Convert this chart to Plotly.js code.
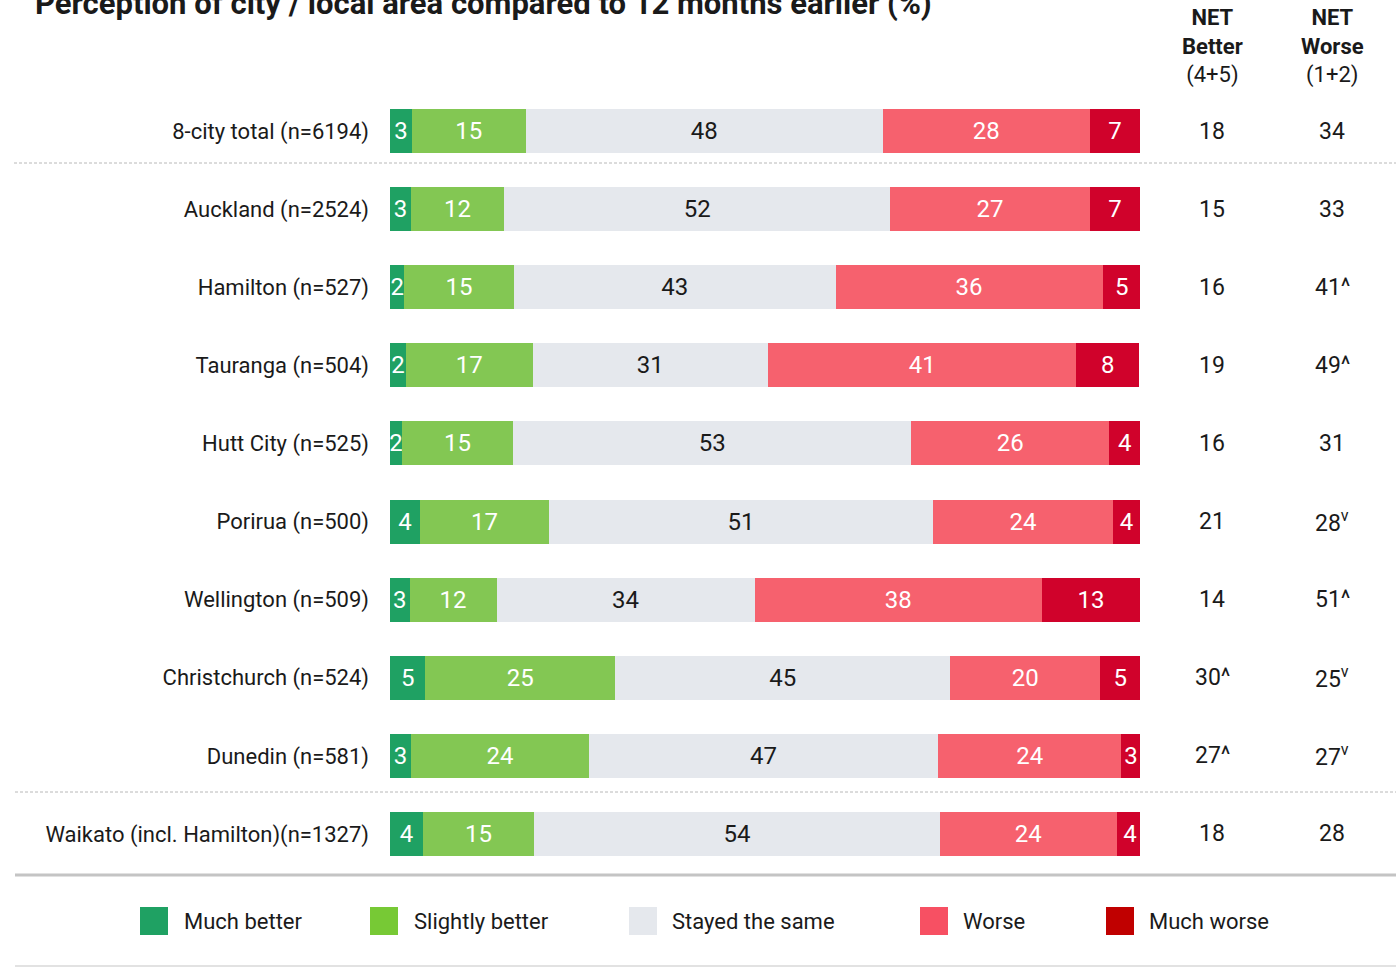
<!DOCTYPE html>
<html>
<head>
<meta charset="utf-8">
<script src="https://cdn.plot.ly/plotly-3.0.1.min.js"></script>
<style>html,body{margin:0;padding:0;background:#fff;}#chart{width:1396px;height:967px;}</style>
</head>
<body>
<div id="chart"></div>
<script>
// ---- data ----
const categories = [
  "8-city total (n=6194)",
  "Auckland (n=2524)",
  "Hamilton (n=527)",
  "Tauranga (n=504)",
  "Hutt City (n=525)",
  "Porirua (n=500)",
  "Wellington (n=509)",
  "Christchurch (n=524)",
  "Dunedin (n=581)",
  "Waikato (incl. Hamilton)(n=1327)"
];
const muchBetter     = [2.9, 2.8, 1.9, 2.1, 1.6, 4.0, 2.6, 4.7, 2.8, 4.4];
const slightlyBetter = [15.2, 12.4, 14.6, 16.9, 14.8, 17.2, 11.6, 25.3, 23.7, 14.8];
const stayedSame     = [47.6, 51.5, 42.9, 31.4, 53.1, 51.2, 34.4, 44.7, 46.6, 54.1];
const worse          = [27.6, 26.6, 35.6, 41.1, 26.4, 24.0, 38.3, 20.0, 24.4, 23.6];
const muchWorse      = [6.7, 6.7, 5.1, 8.4, 4.1, 3.6, 13.1, 5.3, 2.6, 3.5];
const netBetter = ["18", "15", "16", "19", "16", "21", "14", "30^", "27^", "18"];
const netWorse  = ["34", "33", "41^", "49^", "31", "28<sup>v</sup>", "51^", "25<sup>v</sup>", "27<sup>v</sup>", "28"];
const seriesNames = ["Much better", "Slightly better", "Stayed the same", "Worse", "Much worse"];
const titleText = "Perception of city / local area compared to 12 months earlier (%)";

// ---- styling ----
const FONT = "Roboto, 'Noto Sans', sans-serif";
const barColors = ["#1fa163", "#83c753", "#e5e8ed", "#f6616e", "#d0022b"];
const legendColors = ["#1fa163", "#77c935", "#e5e8ed", "#f75063", "#c00000"];
const textColors = ["#ffffff", "#ffffff", "#1a1a1a", "#ffffff", "#ffffff"];
const seriesValues = [muchBetter, slightlyBetter, stayedSame, worse, muchWorse];

const W = 1396, H = 967;
const ML = 390, MR = W - 1140, MT = 92, MB = H - 873;
const plotW = W - ML - MR, plotH = H - MT - MB;
const px = x => (x - ML) / plotW;
const py = y => (H - MB - y) / plotH;

const traces = seriesValues.map((vals, i) => ({
  type: "bar",
  orientation: "h",
  name: seriesNames[i],
  y: categories,
  x: vals,
  marker: {color: barColors[i], line: {width: 0}},
  texttemplate: "%{x:.0f}",
  textposition: "inside",
  insidetextanchor: "middle",
  textangle: 0,
  constraintext: "none",
  textfont: {family: FONT, size: 24, color: textColors[i]},
  hoverinfo: "skip",
  showlegend: false
}));

const annotations = [];
annotations.push({
  xref: "paper", yref: "paper", x: px(33), y: py(4), xanchor: "left", yanchor: "middle",
  text: "<b>" + titleText + "</b>", showarrow: false,
  font: {family: FONT, size: 31, color: "#1a1a1a"}
});
annotations.push({
  xref: "paper", yref: "paper", x: px(1212), y: py(47), xanchor: "center", yanchor: "middle",
  text: "<b>NET</b><br><b>Better</b><br>(4+5)", showarrow: false, align: "center",
  font: {family: FONT, size: 22, color: "#1a1a1a"}
});
annotations.push({
  xref: "paper", yref: "paper", x: px(1332), y: py(47), xanchor: "center", yanchor: "middle",
  text: "<b>NET</b><br><b>Worse</b><br>(1+2)", showarrow: false, align: "center",
  font: {family: FONT, size: 22, color: "#1a1a1a"}
});
categories.forEach((c, i) => {
  annotations.push({
    xref: "paper", yref: "y", x: px(1212), y: c, xanchor: "center", yanchor: "middle",
    text: netBetter[i], showarrow: false, font: {family: FONT, size: 23, color: "#1a1a1a"}
  });
  annotations.push({
    xref: "paper", yref: "y", x: px(1332), y: c, xanchor: "center", yanchor: "middle",
    text: netWorse[i], showarrow: false, font: {family: FONT, size: 23, color: "#1a1a1a"}
  });
});

const shapes = [
  {type: "line", xref: "paper", yref: "paper", x0: px(14), x1: px(1396), y0: py(163), y1: py(163),
   line: {color: "#b8b8b8", width: 1, dash: "3px,2px"}},
  {type: "line", xref: "paper", yref: "paper", x0: px(15), x1: px(1396), y0: py(792), y1: py(792),
   line: {color: "#b8b8b8", width: 1, dash: "3px,2px"}},
  {type: "line", xref: "paper", yref: "paper", x0: px(15), x1: px(1396), y0: py(875), y1: py(875),
   line: {color: "#c4c4c4", width: 3}},
  {type: "line", xref: "paper", yref: "paper", x0: px(15), x1: px(1396), y0: py(966), y1: py(966),
   line: {color: "#e2e2e2", width: 2}}
];

// custom legend
const legSquareX = [140, 370, 629, 920, 1106];
const legTextX = [182, 412, 670, 961, 1147];
const legY = 921;
seriesNames.forEach((n, i) => {
  shapes.push({type: "rect", xref: "paper", yref: "paper",
    x0: px(legSquareX[i]), x1: px(legSquareX[i] + 28), y0: py(legY - 14), y1: py(legY + 14),
    fillcolor: legendColors[i], line: {width: 0}});
  annotations.push({xref: "paper", yref: "paper", x: px(legTextX[i]), y: py(legY),
    xanchor: "left", yanchor: "middle", text: n, showarrow: false,
    font: {family: FONT, size: 22, color: "#1a1a1a"}});
});

const layout = {
  width: W, height: H,
  margin: {l: ML, r: MR, t: MT, b: MB, pad: 0},
  paper_bgcolor: "#ffffff", plot_bgcolor: "#ffffff",
  barmode: "stack",
  bargap: 0.436,
  showlegend: false,
  xaxis: {range: [0, 100], visible: false, fixedrange: true},
  yaxis: {
    type: "category", range: [9.5, -0.5], showgrid: false, zeroline: false, showline: false,
    ticks: "", ticklabelstandoff: 20,
    tickfont: {family: FONT, size: 22, color: "#1a1a1a"}, fixedrange: true
  },
  shapes: shapes,
  annotations: annotations,
  font: {family: FONT}
};

Plotly.newPlot("chart", traces, layout, {displayModeBar: false, staticPlot: true});
</script>
</body>
</html>
